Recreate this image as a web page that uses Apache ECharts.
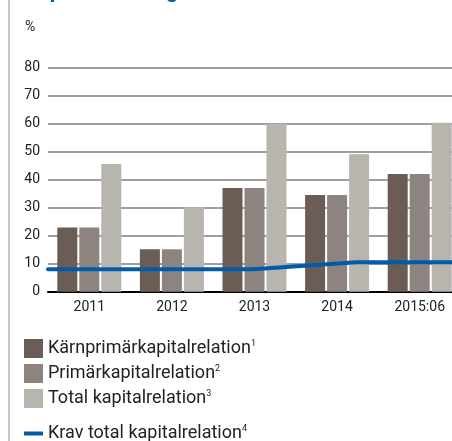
<!DOCTYPE html>
<html>
<head>
<meta charset="utf-8">
<script src="https://cdn.jsdelivr.net/npm/echarts@6/dist/echarts.min.js"></script>
<style>
  html, body { margin: 0; padding: 0; background: #fff; overflow: hidden; }
  #chart { width: 461px; height: 441px; }
</style>
</head>
<body>
<div id="chart"></div>
<script>
// kategorier och värden (%)
var categories = ['2011', '2012', '2013', '2014', '2015:06'];
var karnprimar = [22.9, 15.2, 37.0, 34.5, 42.0];
var primar = [22.9, 15.2, 37.0, 34.5, 42.0];
var total = [45.6, 30.2, 60.0, 49.1, 60.3];
// krav: position i år från början av 2011, värde i %
var kravTid = [0, 2.48, 3.73, 5];
var krav = [8, 8, 10.5, 10.5];
var yTicks = [0, 10, 20, 30, 40, 50, 60, 70, 80];

var sup = {
    'Kärnprimärkapitalrelation': '1',
    'Primärkapitalrelation': '2',
    'Total kapitalrelation': '3',
    'Krav total kapitalrelation': '4'
};

var myChart = echarts.init(document.getElementById('chart'));

var legendText = {
    fontFamily: 'Roboto',
    fontSize: 18,
    lineHeight: 19,
    color: '#222',
    rich: {
        s: {fontFamily: 'Roboto', fontSize: 9, lineHeight: 19, color: '#222', verticalAlign: 'top', padding: [0, 0, 7, 0]}
    }
};

function legendFormatter(name) {
    return name + '{s|' + sup[name] + '}';
}

var kravData = [];
for (var i = 0; i < kravTid.length; i++) {
    kravData.push([kravTid[i], krav[i]]);
}

var option = {
    animation: false,
    textStyle: {fontFamily: 'Roboto'},
    title: {
        text: 'Kapitaltäckning',
        left: 24,
        top: -20,
        padding: 0,
        textStyle: {fontFamily: 'Roboto', fontSize: 22, fontWeight: 'bold', color: '#0062ae'}
    },
    graphic: [
        {
            type: 'line',
            shape: {x1: 9, y1: 0, x2: 9, y2: 441},
            style: {stroke: '#cbc6c0', lineWidth: 2}
        },
        {
            type: 'text',
            left: 25,
            top: 20,
            style: {text: '%', fontFamily: 'Roboto', fontSize: 14, fill: '#222'}
        }
    ],
    legend: [
        {
            orient: 'vertical',
            left: 24,
            top: 339,
            padding: 0,
            itemWidth: 19,
            itemHeight: 19,
            itemGap: 6,
            icon: 'rect',
            data: ['Kärnprimärkapitalrelation', 'Primärkapitalrelation', 'Total kapitalrelation'],
            formatter: legendFormatter,
            textStyle: legendText
        },
        {
            orient: 'vertical',
            left: 24,
            top: 424,
            padding: 0,
            itemWidth: 19,
            itemHeight: 4,
            icon: 'rect',
            data: ['Krav total kapitalrelation'],
            formatter: legendFormatter,
            textStyle: legendText
        }
    ],
    grid: {left: 48, right: 0, top: 67.7, bottom: 149.3, containLabel: false},
    xAxis: [
        {
            type: 'category',
            data: categories,
            axisTick: {show: false},
            axisLine: {show: true, lineStyle: {color: '#000', width: 2}},
            axisLabel: {fontFamily: 'Roboto', fontSize: 14, color: '#222', margin: 9}
        },
        {
            type: 'value',
            min: 0,
            max: 5,
            show: false
        }
    ],
    yAxis: {
        type: 'value',
        min: yTicks[0],
        max: yTicks[yTicks.length - 1],
        interval: 10,
        axisLine: {show: false},
        axisTick: {show: false},
        axisLabel: {fontFamily: 'Roboto', fontSize: 14, color: '#222', margin: 8},
        splitLine: {lineStyle: {color: '#7f7f7f', width: 1.5}}
    },
    series: [
        {
            name: 'Kärnprimärkapitalrelation',
            type: 'bar',
            data: karnprimar,
            barWidth: 20,
            barGap: '10%',
            itemStyle: {color: '#6b5d55'}
        },
        {
            name: 'Primärkapitalrelation',
            type: 'bar',
            data: primar,
            barWidth: 20,
            barGap: '10%',
            itemStyle: {color: '#8d847f'}
        },
        {
            name: 'Total kapitalrelation',
            type: 'bar',
            data: total,
            barWidth: 20,
            barGap: '10%',
            itemStyle: {color: '#b8b4ae'}
        },
        {
            name: 'Krav total kapitalrelation',
            type: 'line',
            xAxisIndex: 1,
            data: kravData,
            symbol: 'none',
            z: 5,
            itemStyle: {color: '#005ca9'},
            lineStyle: {color: '#005ca9', width: 4, cap: 'round'}
        }
    ]
};

myChart.setOption(option);
</script>
</body>
</html>
